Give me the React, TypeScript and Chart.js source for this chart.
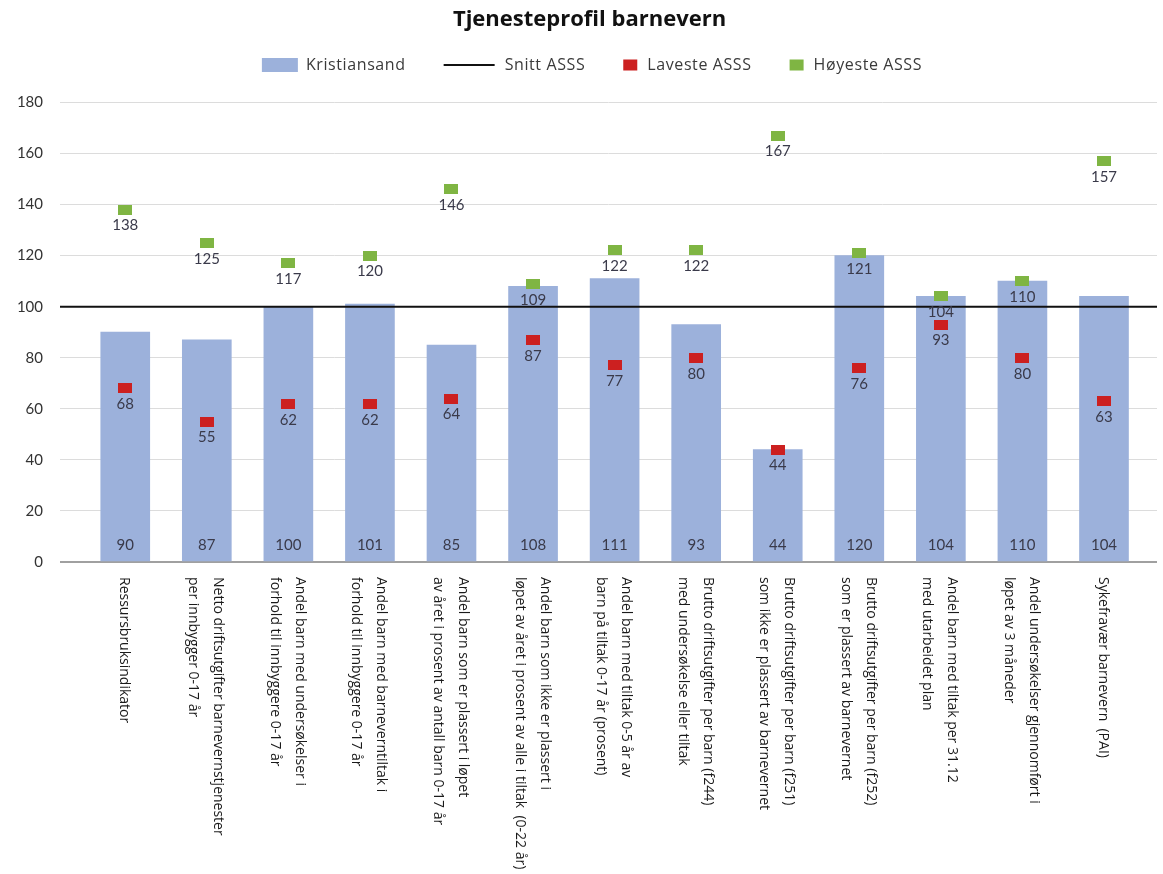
import React, { useEffect, useRef } from "react";
import { Chart, registerables } from "chart.js";

Chart.register(...registerables);

const categories: string[][] = [
  ["Ressursbruksindikator"],
  ["Netto driftsutgifter barnevernstjenester", "per innbygger 0-17 år"],
  ["Andel barn med undersøkelser i", "forhold til innbyggere 0-17 år"],
  ["Andel barn med barneverntiltak i", "forhold til innbyggere 0-17 år"],
  ["Andel barn som er plassert i løpet", "av året i prosent av antall barn 0-17 år"],
  ["Andel barn som ikke er plassert i", "løpet av året i prosent av alle i tiltak  (0-22 år)"],
  ["Andel barn med tiltak 0-5 år av", "barn på tiltak 0-17 år (prosent)"],
  ["Brutto driftsutgifter per barn (f244)", "med undersøkelse eller tiltak"],
  ["Brutto driftsutgifter per barn (f251)", "som ikke er plassert av barnevernet"],
  ["Brutto driftsutgifter per barn (f252)", "som er plassert av barnevernet"],
  ["Andel barn med tiltak per 31.12", "med utarbeidet plan"],
  ["Andel undersøkelser gjennomført i", "løpet av 3 måneder"],
  ["Sykefravær barnevern  (PAI)"],
];

const kristiansand = [90, 87, 100, 101, 85, 108, 111, 93, 44, 120, 104, 110, 104];
const lavesteASSS = [68, 55, 62, 62, 64, 87, 77, 80, 44, 76, 93, 80, 63];
const hoyesteASSS = [138, 125, 117, 120, 146, 109, 122, 122, 167, 121, 104, 110, 157];
const snittASSS = 100;

const yTicks = [0, 20, 40, 60, 80, 100, 120, 140, 160, 180];

const TITLE = "Tjenesteprofil barnevern";
const LEGEND = ["Kristiansand", "Snitt ASSS", "Laveste ASSS", "Høyeste ASSS"];

const BLUE = "#9cb1db";
const RED = "#cc2020";
const GREEN = "#7fb543";
const XMIN = -0.8;
const XMAX = 12.65;

function makeRect(w: number, h: number, color: string) {
  const c = document.createElement("canvas");
  c.width = w;
  c.height = h;
  const g = c.getContext("2d")!;
  g.fillStyle = color;
  g.fillRect(0, 0, w, h);
  return c;
}

export default function App() {
  const ref = useRef<HTMLCanvasElement | null>(null);

  useEffect(() => {
    if (!ref.current) return;
    const redPt = makeRect(14, 10, RED);
    const greenPt = makeRect(14, 10, GREEN);

    const labelPlugin = {
      id: "valueLabels",
      afterDatasetsDraw(chart: any) {
        const ctx = chart.ctx;
        const ys = chart.scales.y;
        ctx.save();
        ctx.font = "15px Lato";
        ctx.fillStyle = "#3a3a4a";
        ctx.textAlign = "center";
        ctx.textBaseline = "middle";
        const bars = chart.getDatasetMeta(0);
        bars.data.forEach((el: any, i: number) => {
          ctx.fillText(String(kristiansand[i]), el.x, ys.getPixelForValue(0) - 17);
        });
        const red = chart.getDatasetMeta(2);
        red.data.forEach((el: any, i: number) => {
          ctx.fillText(String(lavesteASSS[i]), el.x, el.y + 16);
        });
        const green = chart.getDatasetMeta(3);
        green.data.forEach((el: any, i: number) => {
          ctx.fillText(String(hoyesteASSS[i]), el.x, el.y + 16);
        });
        ctx.restore();
      },
      afterDraw(chart: any) {
        const ctx = chart.ctx;
        const xs = chart.scales.x;
        const area = chart.chartArea;
        // rotated x labels (clockwise)
        ctx.save();
        ctx.font = "14px 'Open Sans'";
        ctx.fillStyle = "#1a1a1a";
        ctx.textAlign = "left";
        ctx.textBaseline = "middle";
        categories.forEach((lines, i) => {
          const cx = xs.getPixelForValue(i);
          const n = lines.length;
          lines.forEach((line, j) => {
            ctx.save();
            ctx.translate(cx - 1, area.bottom + 15);
            ctx.rotate(Math.PI / 2);
            ctx.fillText(line, 0, (j - (n - 1) / 2) * 25);
            ctx.restore();
          });
        });
        ctx.restore();

        // legend
        ctx.save();
        ctx.font = "16px 'Open Sans'";
        (ctx as any).letterSpacing = "0.6px";
        ctx.textBaseline = "middle";
        ctx.textAlign = "left";
        const items = [
          { w: 36, gap: 8 },
          { w: 51, gap: 10 },
          { w: 14, gap: 10 },
          { w: 14, gap: 10 },
        ];
        const between = 38;
        let total = 0;
        items.forEach((it, k) => {
          total += it.w + it.gap + ctx.measureText(LEGEND[k]).width;
          if (k < items.length - 1) total += between;
        });
        const cyL = 65;
        let x = 592 - total / 2;
        items.forEach((it, k) => {
          if (k === 0) {
            ctx.fillStyle = BLUE;
            ctx.fillRect(x, cyL - 7, 36, 14);
          } else if (k === 1) {
            ctx.strokeStyle = "#111";
            ctx.lineWidth = 2;
            ctx.beginPath();
            ctx.moveTo(x, cyL);
            ctx.lineTo(x + 51, cyL);
            ctx.stroke();
          } else {
            ctx.fillStyle = k === 2 ? RED : GREEN;
            ctx.fillRect(x, cyL - 5.5, 14, 11);
          }
          x += it.w + it.gap;
          ctx.fillStyle = "#3a3a3a";
          ctx.fillText(LEGEND[k], x, cyL);
          x += ctx.measureText(LEGEND[k]).width + between;
        });
        ctx.restore();
      },
    };

    const chart = new Chart(ref.current, {
      type: "bar",
      data: {
        datasets: [
          {
            type: "bar",
            label: LEGEND[0],
            data: kristiansand.map((v, i) => ({ x: i, y: v })),
            backgroundColor: BLUE,
            barThickness: 49,
            order: 4,
          } as any,
          {
            type: "line",
            label: LEGEND[1],
            data: [XMIN, XMAX].map((x) => ({ x, y: snittASSS })),
            borderColor: "#111",
            borderWidth: 2,
            pointRadius: 0,
            order: 3,
          },
          {
            type: "line",
            label: LEGEND[2],
            data: lavesteASSS.map((v, i) => ({ x: i, y: v })),
            showLine: false,
            pointStyle: redPt,
            pointRadius: 5,
            order: 2,
          },
          {
            type: "line",
            label: LEGEND[3],
            data: hoyesteASSS.map((v, i) => ({ x: i, y: v })),
            showLine: false,
            pointStyle: greenPt,
            pointRadius: 5,
            order: 1,
          },
        ],
      },
      options: {
        animation: false,
        responsive: false,
        layout: { padding: { left: 16, right: 0, top: 0, bottom: 312 } },
        plugins: {
          legend: { display: false },
          tooltip: { enabled: false },
          title: {
            display: true,
            text: TITLE,
            color: "#111",
            font: { family: "'Open Sans'", size: 22, weight: "bold" },
            padding: { top: 7, bottom: 69 },
          },
        },
        scales: {
          x: {
            type: "linear",
            display: false,
            offset: false,
            min: XMIN,
            max: XMAX,
            grid: { offset: false },
          },
          y: {
            min: 0,
            max: 180,
            afterBuildTicks: (scale: any) => {
              scale.ticks = yTicks.map((v) => ({ value: v }));
            },
            afterFit: (scale: any) => {
              scale.width = 44;
            },
            border: { display: false },
            grid: {
              drawTicks: false,
              color: (c: any) => (c.tick && c.tick.value === 0 ? "#a0a0a0" : "#dcdcdc"),
              lineWidth: (c: any) => (c.tick && c.tick.value === 0 ? 2 : 1),
            },
            ticks: {
              padding: 17,
              color: "#333",
              font: { family: "Lato", size: 15 },
            },
          },
        },
      },
      plugins: [labelPlugin],
    } as any);

    return () => chart.destroy();
  }, []);

  return (
    <div style={{ position: "fixed", left: 0, top: 0, width: 1163, height: 874 }}>
      <canvas ref={ref} width={1163} height={874} style={{ display: "block" }} />
    </div>
  );
}
